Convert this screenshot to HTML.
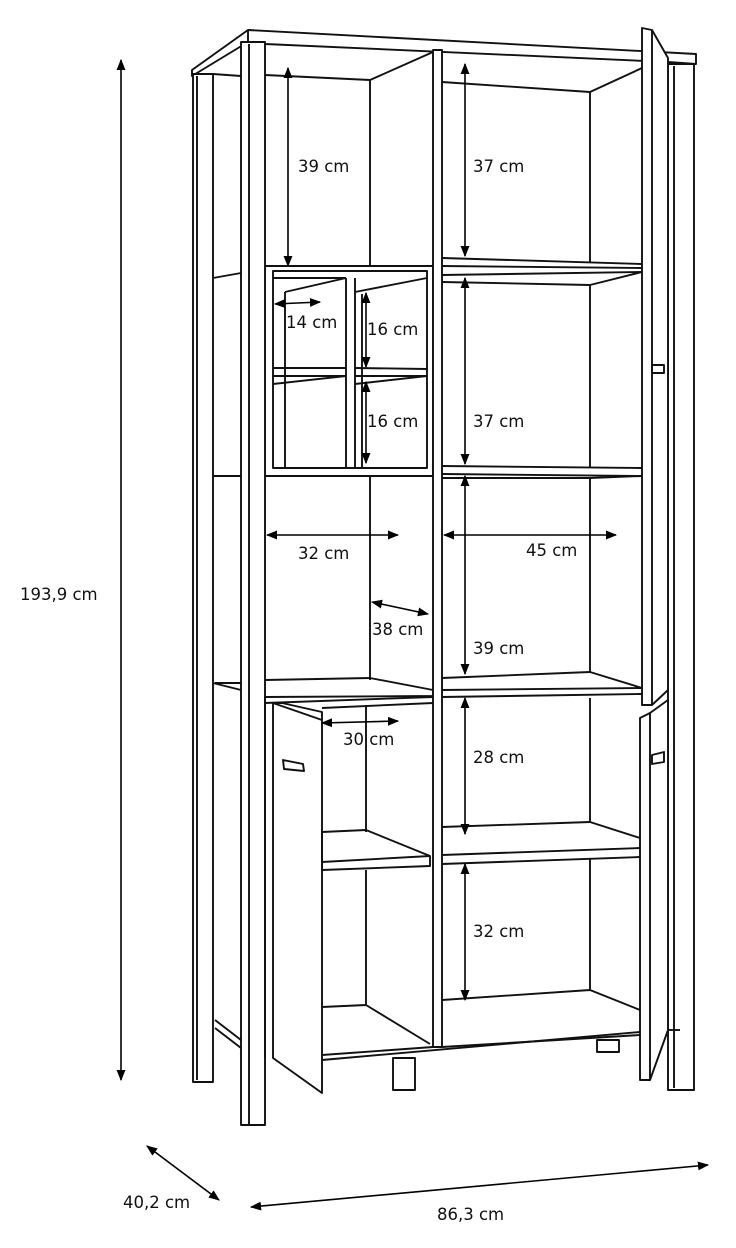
<!DOCTYPE html>
<html><head><style>
html,body{margin:0;padding:0;background:#fff;}
svg{display:block}
text{font-family:"DejaVu Sans","Liberation Sans",sans-serif;font-size:16.5px;fill:#111}
</style></head><body>
<svg width="736" height="1248" viewBox="0 0 736 1248" xmlns="http://www.w3.org/2000/svg">
<defs>
<marker id="a" viewBox="0 0 10 10" refX="9" refY="5" markerWidth="7" markerHeight="7" orient="auto-start-reverse"><path d="M0,1 L10,5 L0,9 z" fill="#000"/></marker>
</defs>
<g fill="none" stroke="#111" stroke-width="1.9" stroke-linejoin="round">
<path d="M192,70 L248,30 L696,54 L696,64 L668,62 L265,44 L248,42 L192,76 Z" fill="#fff"/>
<line x1="248" y1="30" x2="248" y2="42"/>
<rect x="193" y="74" width="20" height="1008" fill="#fff"/>
<line x1="197" y1="76" x2="197" y2="1080"/>
<line x1="213" y1="74" x2="241" y2="76"/>
<line x1="213" y1="278" x2="241" y2="273"/>
<line x1="213" y1="476" x2="241" y2="476"/>
<line x1="213" y1="683" x2="241" y2="690"/>
<line x1="215" y1="1020" x2="241" y2="1040"/>
<line x1="215" y1="1028" x2="241" y2="1048"/>
<line x1="265" y1="75" x2="370" y2="80"/>
<line x1="370" y1="80" x2="433" y2="52"/>
<line x1="370" y1="80" x2="370" y2="268"/>
<rect x="265" y="266" width="168" height="210" fill="#fff"/>
<rect x="273" y="271" width="154" height="197"/>
<line x1="273" y1="278" x2="346" y2="278"/>
<line x1="285" y1="292" x2="346" y2="278"/>
<line x1="285" y1="292" x2="285" y2="468"/>
<line x1="355" y1="292" x2="427" y2="278"/>
<line x1="346" y1="278" x2="346" y2="468"/>
<line x1="355" y1="278" x2="355" y2="468"/>
<line x1="362" y1="294" x2="362" y2="468"/>
<line x1="273" y1="368" x2="346" y2="368"/>
<line x1="273" y1="376" x2="346" y2="376"/>
<line x1="273" y1="384" x2="346" y2="376"/>
<line x1="355" y1="368" x2="427" y2="369"/>
<line x1="355" y1="376" x2="427" y2="376"/>
<line x1="355" y1="384" x2="427" y2="376"/>
<line x1="370" y1="476" x2="370" y2="680"/>
<path d="M215,683 L241,683 M265,680 L370,678 L433,690 L433,696 L265,697" />
<line x1="265" y1="703" x2="433" y2="697"/>
<rect x="241" y="42" width="24" height="1083" fill="#fff"/>
<line x1="249" y1="44" x2="249" y2="1124"/>
<rect x="433" y="50" width="9" height="997" fill="#fff"/>
<line x1="442" y1="82" x2="590" y2="92"/>
<line x1="590" y1="92" x2="642" y2="68"/>
<line x1="590" y1="92" x2="590" y2="262"/>
<path d="M442,258 L642,264 M442,266 L642,268 M442,275 L642,272 M442,282 L590,285 L642,272"/>
<line x1="590" y1="285" x2="590" y2="468"/>
<path d="M442,466 L642,468 M442,474 L642,476 M442,478 L590,478 L642,476"/>
<line x1="590" y1="478" x2="590" y2="672"/>
<path d="M442,678 L590,672 L642,688 M442,690 L642,688 M442,697 L642,694"/>
<path d="M265,697 L265,1058 M273,703 L322,720 L322,1093 L273,1058 Z" fill="#fff"/>
<path d="M273,703 L282,703 L322,712 L322,720"/>
<path d="M283,760 L303,764 L304,771 L284,769 Z"/>
<line x1="322" y1="708" x2="433" y2="703"/>
<line x1="366" y1="705" x2="366" y2="832"/>
<path d="M322,832 L366,830 L430,856 L430,866 L322,870 Z"/>
<line x1="322" y1="862" x2="430" y2="856"/>
<line x1="366" y1="870" x2="366" y2="1005"/>
<path d="M322,1007 L366,1005 L430,1044"/>
<path d="M322,1060 L640,1032 M322,1055 L433,1047"/>
<rect x="393" y="1058" width="22" height="32"/>
<rect x="597" y="1040" width="22" height="12"/>
<line x1="590" y1="698" x2="590" y2="822"/>
<path d="M442,827 L590,822 L640,838 M442,855 L640,848 M442,864 L640,857"/>
<line x1="590" y1="858" x2="590" y2="990"/>
<path d="M442,1000 L590,990 L640,1010"/>
<path d="M442,1047 L640,1035"/>
<rect x="668" y="64" width="26" height="1026" fill="#fff"/>
<line x1="674" y1="66" x2="674" y2="1088"/>
<line x1="668" y1="1030" x2="680" y2="1030"/>
<path d="M642,28 L652,30 L668,58 L668,690 L652,705 L642,705 Z" fill="#fff"/>
<line x1="652" y1="30" x2="652" y2="705"/>
<rect x="652" y="365" width="12" height="8"/>
<path d="M640,718 L650,713 L668,700 L668,1030 L650,1080 L640,1080 Z" fill="#fff"/>
<line x1="650" y1="713" x2="650" y2="1080"/>
<path d="M652,755 L664,752 L664,762 L652,764 Z"/>
</g>
<g stroke="#000" stroke-width="1.6" marker-start="url(#a)" marker-end="url(#a)">
<line x1="121" y1="60" x2="121" y2="1080"/>
<line x1="147" y1="1146" x2="219" y2="1200"/>
<line x1="251" y1="1207" x2="708" y2="1165"/>
<line x1="288" y1="68" x2="288" y2="266"/>
<line x1="465" y1="64" x2="465" y2="256"/>
<line x1="465" y1="278" x2="465" y2="464"/>
<line x1="465" y1="476" x2="465" y2="674"/>
<line x1="465" y1="698" x2="465" y2="834"/>
<line x1="465" y1="864" x2="465" y2="1000"/>
<line x1="275" y1="304" x2="320" y2="302"/>
<line x1="366" y1="293" x2="366" y2="367"/>
<line x1="366" y1="382" x2="366" y2="463"/>
<line x1="267" y1="535" x2="398" y2="535"/>
<line x1="444" y1="535" x2="616" y2="535"/>
<line x1="372" y1="602" x2="428" y2="614"/>
<line x1="322" y1="723" x2="398" y2="721"/>
</g>
<text x="20" y="600">193,9 cm</text>
<text x="123" y="1208">40,2 cm</text>
<text x="437" y="1220">86,3 cm</text>
<text x="298" y="172">39 cm</text>
<text x="473" y="172">37 cm</text>
<text x="473" y="427">37 cm</text>
<text x="473" y="654">39 cm</text>
<text x="473" y="763">28 cm</text>
<text x="473" y="937">32 cm</text>
<text x="286" y="328">14 cm</text>
<text x="367" y="335">16 cm</text>
<text x="367" y="427">16 cm</text>
<text x="298" y="559">32 cm</text>
<text x="526" y="556">45 cm</text>
<text x="372" y="635">38 cm</text>
<text x="343" y="745">30 cm</text>
</svg>
</body></html>
